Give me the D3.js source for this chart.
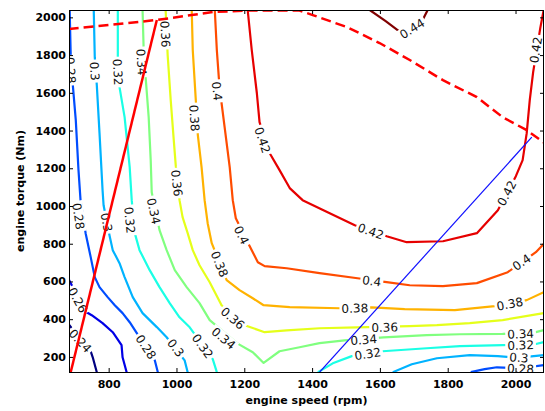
<!DOCTYPE html>
<html><head><meta charset="utf-8">
<script src="https://cdn.jsdelivr.net/npm/d3@7"></script>
<style>body{margin:0;background:#fff} svg{display:block}</style>
</head><body>
<svg id="chart" width="545" height="411"></svg>
<script>
// ---------------- data (engine speed rpm, torque Nm) ----------------
const xTicks = [800, 1000, 1200, 1400, 1600, 1800, 2000];
const yTicks = [200, 400, 600, 800, 1000, 1200, 1400, 1600, 1800, 2000];
const levels = [0.24, 0.26, 0.28, 0.30, 0.32, 0.34, 0.36, 0.38, 0.40, 0.42, 0.44];

const c024 = [[682,373],[700,331],[744,246],[753,198],[765,119]];
const l024 = [[716,285]];
const c026 = [[682,612],[694,570],[735,437],[750,421],[782,379],[812,331],[838,262],[841,198],[853,119]];
const l026 = [[709,501]];
const c028a = [[685,2039],[688,1800],[694,1646],[703,1455],[711,1190],[717,1031],[732,856],[747,729],[759,623],[773,570],[797,517],[818,474],[841,432],[862,384],[883,326],[936,182],[945,119]];
const l028a = [[688,1720],[711,946],[910,253]];
const c028b = [[1868,119],[1909,135],[1945,145],[2015,140],[2083,156]];
const l028b = [[2015,137]];
const c030a = [[756,2039],[759,1789],[765,1641],[773,1386],[782,1084],[785,1004],[803,840],[812,766],[832,697],[847,623],[871,517],[900,432],[942,358],[971,304],[1024,182],[1033,119]];
const l030a = [[759,1715],[794,914],[998,248]];
const c030b = [[1638,119],[1694,161],[1768,193],[1865,209],[1948,204],[2010,196],[2083,209]];
const l030b = [[2010,196]];
const c032a = [[827,2039],[827,1789],[832,1630],[847,1471],[862,1206],[868,1031],[877,856],[891,766],[921,660],[950,570],[980,485],[1009,410],[1039,357],[1107,188],[1119,119]];
const l032a = [[827,1710],[862,925],[1077,257]];
const c032b = [[1417,119],[1461,166],[1517,204],[1608,230],[1738,246],[1836,257],[1962,262],[2057,267],[2083,278]];
const l032b = [[1564,216],[2015,262]];
const c034 = [[900,2039],[903,1843],[909,1683],[918,1471],[924,1243],[927,1073],[950,872],[971,766],[995,660],[1030,570],[1068,485],[1098,395],[1178,273],[1225,225],[1257,168],[1304,230],[1363,251],[1422,273],[1496,288],[1611,304],[1738,315],[1836,320],[1962,322],[2057,330],[2083,342]];
const l034 = [[897,1763],[933,973],[1139,299],[1552,291],[2015,322]];
const c036 = [[968,2039],[974,1800],[983,1561],[992,1349],[998,1211],[1009,1031],[1018,941],[1033,856],[1048,766],[1068,686],[1098,596],[1133,474],[1201,368],[1260,331],[1325,341],[1422,352],[1532,357],[1688,363],[1768,368],[1865,379],[1962,395],[2083,432]];
const l036 = [[967,1911],[1001,1121],[1166,405],[1614,357]];
const c038 = [[1045,2039],[1048,1827],[1057,1561],[1063,1376],[1074,1206],[1083,1031],[1092,909],[1104,803],[1148,607],[1186,554],[1225,511],[1257,474],[1334,464],[1481,458],[1576,463],[1673,453],[1821,448],[1939,469],[2033,501],[2083,543]];
const l038 = [[1053,1466],[1127,692],[1526,458],[1983,481]];
const c040 = [[1113,2039],[1119,1827],[1125,1678],[1133,1545],[1142,1418],[1157,1206],[1166,1031],[1175,935],[1216,787],[1240,702],[1260,681],[1325,670],[1422,644],[1534,617],[1620,596],[1688,580],[1786,575],[1886,591],[1977,649],[2060,755],[2083,798]];
const l040 = [[1120,1609],[1192,845],[1576,603],[2018,702]];
const c042 = [[1210,2039],[1222,1827],[1237,1599],[1245,1445],[1275,1280],[1304,1190],[1334,1095],[1372,1031],[1452,962],[1526,898],[1620,840],[1679,808],[1786,813],[1886,856],[1948,978],[2001,1158],[2021,1243],[2033,1386],[2042,1561],[2052,1710],[2073,1943],[2083,2039]];
const l042 = [[1254,1349],[1573,866],[1974,1068],[2060,1827]];
const c044 = [[1570,2039],[1617,1980],[1664,1917],[1726,1986],[1741,2039]];
const l044 = [[1695,1940]];

const limitSolid = [[688,119],[942,1986]];
const limitDashed = [[682,1938],[942,1986],[1107,2028],[1216,2036],[1363,2036],[1402,2012],[1502,1949],[1599,1864],[1688,1774],[1786,1667],[1886,1577],[1962,1471],[2033,1402],[2086,1333]];
const blueLine = [[1422,119],[2048,1365]];

const contours = [
  {level:levels[0], pts:c024, labels:l024},
  {level:levels[1], pts:c026, labels:l026},
  {level:levels[2], pts:c028a, labels:l028a},
  {level:levels[2], pts:c028b, labels:l028b},
  {level:levels[3], pts:c030a, labels:l030a},
  {level:levels[3], pts:c030b, labels:l030b},
  {level:levels[4], pts:c032a, labels:l032a},
  {level:levels[4], pts:c032b, labels:l032b},
  {level:levels[5], pts:c034, labels:l034},
  {level:levels[6], pts:c036, labels:l036},
  {level:levels[7], pts:c038, labels:l038},
  {level:levels[8], pts:c040, labels:l040},
  {level:levels[9], pts:c042, labels:l042},
  {level:levels[10], pts:c044, labels:l044}
];

// ---------------- drawing ----------------
const W = 545, H = 411;
const svg = d3.select('#chart');
const x = d3.scaleLinear().domain([683, 2084]).range([69, 544]);
const y = d3.scaleLinear().domain([120, 2039]).range([372, 10]);
const X0 = 69, X1 = 544, Y0 = 10, Y1 = 372;

function jet(v) {
  const t = (v - levels[0]) / (levels[levels.length - 1] - levels[0]);
  const cl = u => Math.max(0, Math.min(1, u));
  const r = cl(1.5 - Math.abs(4 * t - 3)), g = cl(1.5 - Math.abs(4 * t - 2)), b = cl(1.5 - Math.abs(4 * t - 1));
  return d3.rgb(r * 255, g * 255, b * 255).formatHex();
}

const defs = svg.append('defs');
defs.append('clipPath').attr('id', 'plotClip').append('rect')
  .attr('x', X0).attr('y', Y0).attr('width', X1 - X0).attr('height', Y1 - Y0);

const line = d3.line().x(d => x(d[0])).y(d => y(d[1]));

const plot = svg.append('g').attr('clip-path', 'url(#plotClip)');
const labelFont = "'DejaVu Sans', sans-serif";

const meas = svg.append('text').attr('font-family', labelFont).attr('font-size', 12).attr('x', -100).attr('y', -100);

contours.forEach((c, i) => {
  const sp = c.pts.map(p => [x(p[0]), y(p[1])]);
  c.labelInfo = c.labels.map(l => {
    const lx = x(l[0]), ly = y(l[1]);
    let best = null, bd = Infinity;
    for (let k = 0; k < sp.length - 1; k++) {
      const [ax, ay] = sp[k], [bx, by] = sp[k + 1];
      const dx = bx - ax, dy = by - ay;
      const tt = Math.max(0, Math.min(1, ((lx - ax) * dx + (ly - ay) * dy) / (dx * dx + dy * dy)));
      const px = ax + tt * dx, py = ay + tt * dy;
      const d = (px - lx) ** 2 + (py - ly) ** 2;
      if (d < bd) { bd = d; best = [dx, dy]; }
    }
    let a = Math.atan2(best[1], best[0]) * 180 / Math.PI;
    if (a > 90) a -= 180;
    if (a <= -90) a += 180;
    const txt = d3.format('.2~f')(c.level);
    meas.text(txt);
    const w = meas.node().getComputedTextLength();
    return {x: lx, y: ly, a, txt, w};
  });
  const mask = defs.append('mask').attr('id', 'm' + i).attr('maskUnits', 'userSpaceOnUse')
    .attr('x', 0).attr('y', 0).attr('width', W).attr('height', H);
  mask.append('rect').attr('width', W).attr('height', H).attr('fill', 'white');
  c.labelInfo.forEach(l => {
    mask.append('rect').attr('x', -l.w / 2 - 2).attr('y', -6).attr('width', l.w + 4).attr('height', 12)
      .attr('fill', 'black').attr('transform', `translate(${l.x},${l.y}) rotate(${l.a})`);
  });
  plot.append('path').attr('d', line(c.pts)).attr('fill', 'none')
    .attr('stroke', jet(c.level)).attr('stroke-width', 2.2)
    .attr('stroke-linejoin', 'round').attr('mask', `url(#m${i})`);
});
meas.remove();

contours.forEach(c => {
  c.labelInfo.forEach(l => {
    plot.append('text').attr('transform', `translate(${l.x},${l.y}) rotate(${l.a})`)
      .attr('text-anchor', 'middle').attr('dy', '0.36em')
      .attr('font-family', labelFont).attr('font-size', 12).attr('fill', '#111')
      .text(l.txt);
  });
});

plot.append('path').attr('d', line(limitSolid)).attr('fill', 'none').attr('stroke', '#ff0000').attr('stroke-width', 2.5);
plot.append('path').attr('d', line(limitDashed)).attr('fill', 'none').attr('stroke', '#ff0000').attr('stroke-width', 2.5)
  .attr('stroke-dasharray', '10,5');
plot.append('path').attr('d', line(blueLine)).attr('fill', 'none').attr('stroke', '#1010ff').attr('stroke-width', 1.2);

// axes
const tickFont = "'DejaVu Sans', sans-serif";
function styleAxis(g, showText) {
  g.select('.domain').remove();
  g.selectAll('.tick line').attr('stroke', '#000');
  g.selectAll('.tick text').attr('font-family', tickFont).attr('font-weight', 'bold')
    .attr('font-size', 11).attr('fill', '#000');
  if (!showText) g.selectAll('.tick text').remove();
}
svg.append('g').attr('transform', `translate(0,${Y1})`)
  .call(d3.axisBottom(x).tickValues(xTicks).tickSizeInner(-4).tickSizeOuter(0).tickPadding(8).tickFormat(d3.format('d')))
  .call(g => styleAxis(g, true));
svg.append('g').attr('transform', `translate(0,${Y0})`)
  .call(d3.axisTop(x).tickValues(xTicks).tickSizeInner(-4).tickSizeOuter(0))
  .call(g => styleAxis(g, false));
svg.append('g').attr('transform', `translate(${X0},0)`)
  .call(d3.axisLeft(y).tickValues(yTicks).tickSizeInner(-4).tickSizeOuter(0).tickPadding(3).tickFormat(d3.format('d')))
  .call(g => styleAxis(g, true));
svg.append('g').attr('transform', `translate(${X1},0)`)
  .call(d3.axisRight(y).tickValues(yTicks).tickSizeInner(-4).tickSizeOuter(0))
  .call(g => styleAxis(g, false));

svg.append('rect').attr('x', X0 + 0.5).attr('y', Y0 + 0.5).attr('width', X1 - X0 - 1).attr('height', Y1 - Y0)
  .attr('fill', 'none').attr('stroke', '#000').attr('stroke-width', 1);

svg.append('text').attr('x', (X0 + X1) / 2).attr('y', 404).attr('text-anchor', 'middle')
  .attr('font-family', tickFont).attr('font-weight', 'bold').attr('font-size', 11).text('engine speed (rpm)');
svg.append('text').attr('transform', `translate(24,${(Y0 + Y1) / 2}) rotate(-90)`).attr('text-anchor', 'middle')
  .attr('font-family', tickFont).attr('font-weight', 'bold').attr('font-size', 11).text('engine torque (Nm)');
</script>
</body></html>
